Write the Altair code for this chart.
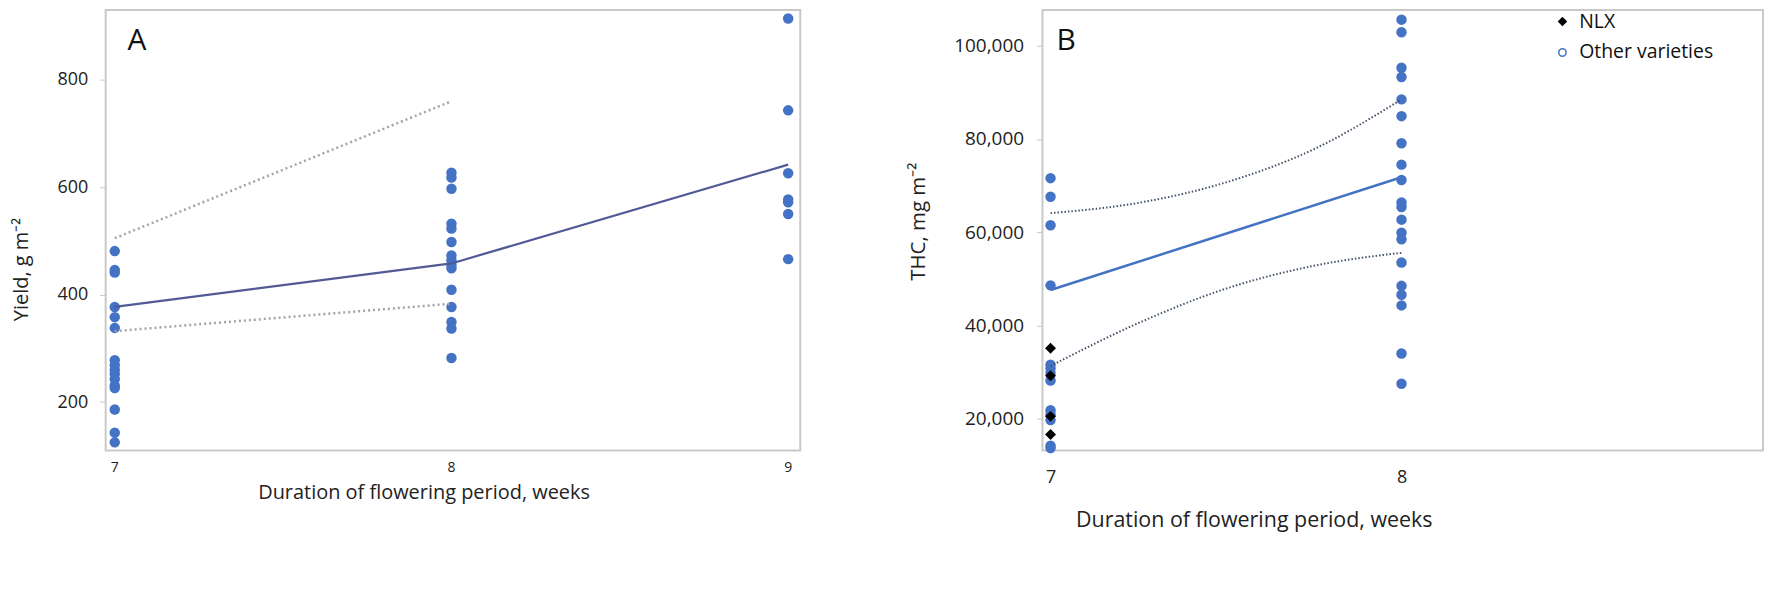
import altair as alt
import pandas as pd

BLUE = "#4472C4"
FONT = "Open Sans"

# ---------------- Panel A : Yield ----------------
a_x7 = [481, 446, 441, 377, 358, 338, 278, 269, 260, 252, 243, 231, 226, 186, 143, 125]
a_x8 = [627, 618, 597, 532, 523, 498, 473, 464, 455, 449, 409, 377, 349, 337, 282]
a_x9 = [914, 743, 626, 577, 572, 550, 466]
a_fit_x = [7, 8, 9]
a_fit_y = [377, 458, 642]
a_up_x = [7, 8]
a_up_y = [505, 760]
a_lo_x = [7, 8]
a_lo_y = [332, 383]
a_ticks_x = [7, 8, 9]
a_ticks_y = [200, 400, 600, 800]

# ---------------- Panel B : THC ----------------
b_x7_other = [71600, 67600, 61500, 48600, 31600, 30800, 29800, 28200, 21800, 20900, 19700, 14200, 13700]
b_x7_nlx = [35100, 29200, 20500, 16600]
b_x8_other = [105600, 102900, 95300, 93300, 88500, 84900, 79100, 74500, 71200, 66400,
              65400, 62700, 59900, 58500, 53500, 48500, 46600, 44300, 34000, 27500]
b_fit_x = [7, 8]
b_fit_y = [47600, 71800]
b_band_x = [7, 7.25, 7.5, 7.75, 8]
b_up_y = [64100, 66300, 70700, 77800, 88500]
b_lo_y = [31300, 40500, 47900, 52800, 55600]
b_ticks_x = [7, 8]
b_ticks_y = [20000, 40000, 60000, 80000, 100000]
groups = ["NLX", "Other varieties"]
panel_labels = ["A", "B"]

dfA = pd.DataFrame({"x": [7] * len(a_x7) + [8] * len(a_x8) + [9] * len(a_x9),
                    "y": a_x7 + a_x8 + a_x9})
dfA_fit = pd.DataFrame({"x": a_fit_x, "y": a_fit_y})
dfA_up = pd.DataFrame({"x": a_up_x, "y": a_up_y})
dfA_lo = pd.DataFrame({"x": a_lo_x, "y": a_lo_y})
dfA_tk = pd.DataFrame({"x": a_ticks_x, "t": [str(v) for v in a_ticks_x]})

dfB_o = pd.DataFrame({"x": [7] * len(b_x7_other) + [8] * len(b_x8_other),
                      "y": b_x7_other + b_x8_other})
dfB_n = pd.DataFrame({"x": [7] * len(b_x7_nlx), "y": b_x7_nlx})
dfB_fit = pd.DataFrame({"x": b_fit_x, "y": b_fit_y})
dfB_up = pd.DataFrame({"x": b_band_x, "y": b_up_y})
dfB_lo = pd.DataFrame({"x": b_band_x, "y": b_lo_y})
dfLeg = pd.DataFrame({"g": groups})

xA = alt.Scale(domain=[6.973, 9.036], nice=False, zero=False)
yA = alt.Scale(domain=[110, 930], nice=False, zero=False)
xB = alt.Scale(domain=[6.977, 9.03], nice=False, zero=False)
yB = alt.Scale(domain=[13200, 107700], nice=False, zero=False)

axA_x = alt.Axis(values=a_ticks_x, ticks=False, domain=False, grid=False, labels=False,
                 title="Duration of flowering period, weeks", titleFontSize=20,
                 titleFontWeight="normal", titleColor="#222",
                 titleX=319, titleY=42, titleBaseline="middle", titleAlign="center")
axA_y = alt.Axis(values=a_ticks_y, format="d", tickSize=6, tickColor="#c8c8c8",
                 labelOverlap=False, domain=False, grid=False, labelFontSize=18, labelPadding=12,
                 labelColor="#222", title="Yield, g m\u207b\u00b2", titleFontSize=20,
                 titleFontWeight="normal", titleColor="#222",
                 titleX=-84, titleY=260, titleBaseline="middle", titleAlign="center",
                 titleAngle=270)

axB_x = alt.Axis(values=b_ticks_x, format="d", ticks=False, domain=False, grid=False,
                 labelOverlap=False, labelFlush=False, labelFontSize=18, labelPadding=18,
                 labelColor="#222",
                 title="Duration of flowering period, weeks", titleFontSize=21.5,
                 titleFontWeight="normal", titleColor="#222",
                 titleX=212, titleY=70, titleBaseline="middle", titleAlign="center")
axB_y = alt.Axis(values=b_ticks_y, format=",d", tickSize=6, tickColor="#c8c8c8",
                 labelOverlap=False, domain=False, grid=False, labelFontSize=19, labelPadding=13,
                 labelColor="#222", title="THC, mg m\u207b\u00b2", titleFontSize=20.5,
                 titleFontWeight="normal", titleColor="#222",
                 titleX=-124, titleY=212, titleBaseline="middle", titleAlign="center",
                 titleAngle=270)

W_A, W_B, H = 697, 723, 442


def xa():
    return alt.X("x:Q", scale=xA, axis=axA_x)


def ya():
    return alt.Y("y:Q", scale=yA, axis=axA_y)


def xb():
    return alt.X("x:Q", scale=xB, axis=axB_x)


def yb():
    return alt.Y("y:Q", scale=yB, axis=axB_y)


ptsA = alt.Chart(dfA).mark_circle(size=110, color=BLUE, opacity=1).encode(x=xa(), y=ya())
fitA = alt.Chart(dfA_fit).mark_line(color="#525a96", strokeWidth=2.2).encode(x=xa(), y=ya())
upA = alt.Chart(dfA_up).mark_line(color="#a3a3ad", strokeWidth=2.5,
                                  strokeDash=[2, 3]).encode(x=xa(), y=ya())
loA = alt.Chart(dfA_lo).mark_line(color="#a3a3ad", strokeWidth=2.5,
                                  strokeDash=[2, 3]).encode(x=xa(), y=ya())
# x tick labels of panel A (placed through the x scale, just under the frame)
tkA = alt.Chart(dfA_tk).mark_text(fontSize=14, baseline="middle", align="center",
                                  color="#222", font=FONT).encode(
    x=xa(), y=alt.value(H + 18), text="t:N")
labA = alt.Chart(pd.DataFrame({"t": [panel_labels[0]]})).mark_text(
    fontSize=30, align="left", baseline="middle", color="#111", font=FONT).encode(
    x=alt.value(22), y=alt.value(31), text="t:N")

chartA = alt.layer(ptsA, upA, loA, fitA, tkA, labA).properties(width=W_A, height=H)

ptsB = alt.Chart(dfB_o).mark_circle(size=110, color=BLUE, opacity=1).encode(x=xb(), y=yb())
nlxB = alt.Chart(dfB_n).mark_point(shape="diamond", filled=True, color="black",
                                   size=120, opacity=1).encode(x=xb(), y=yb())
fitB = alt.Chart(dfB_fit).mark_line(color=BLUE, strokeWidth=2.5).encode(x=xb(), y=yb())
upB = alt.Chart(dfB_up).mark_line(color="#44546A", strokeWidth=2, strokeDash=[1.5, 2],
                                  interpolate="monotone").encode(x=xb(), y=yb())
loB = alt.Chart(dfB_lo).mark_line(color="#44546A", strokeWidth=2, strokeDash=[1.5, 2],
                                  interpolate="monotone").encode(x=xb(), y=yb())
labB = alt.Chart(pd.DataFrame({"t": [panel_labels[1]]})).mark_text(
    fontSize=30, align="left", baseline="middle", color="#111", font=FONT).encode(
    x=alt.value(14), y=alt.value(31), text="t:N")

leg = alt.Legend(title=None, orient="none", legendX=1452, legendY=2,
                 labelFontSize=19.5, labelColor="#111", symbolSize=55,
                 symbolStrokeWidth=1.5, rowPadding=10, labelOffset=7)
legB = alt.Chart(dfLeg).mark_point(opacity=1, filled=False).encode(
    shape=alt.Shape("g:N", scale=alt.Scale(domain=groups, range=["diamond", "circle"]), legend=leg),
    fill=alt.Fill("g:N", scale=alt.Scale(domain=groups, range=["black", "white"]), legend=leg),
    stroke=alt.Stroke("g:N", scale=alt.Scale(domain=groups, range=["black", BLUE]), legend=leg),
).transform_filter(alt.datum.g == "none")

chartB = alt.layer(ptsB, upB, loB, fitB, nlxB, labB, legB).properties(width=W_B, height=H)

chart = alt.hconcat(chartA, chartB, spacing=107).properties(
    padding={"left": 3, "top": 0, "right": 0, "bottom": 0}
).configure(font=FONT).configure_axis(labelOverlap=False).configure_view(
    stroke="#c9c9c9", strokeWidth=2)

chart.save("out.html", embed_options={"renderer": "svg", "actions": False})
